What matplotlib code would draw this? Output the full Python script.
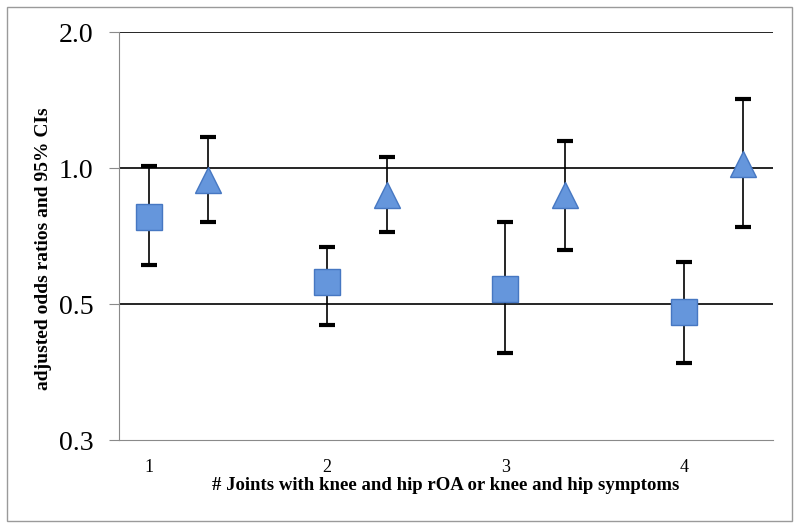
import numpy as np
import matplotlib.pyplot as plt
from matplotlib.patches import Rectangle
from matplotlib.ticker import FixedLocator, FixedFormatter, NullLocator

# datos
grupos = ['1', '2', '3', '4']
sq_or = [0.78, 0.56, 0.54, 0.48]
sq_lo = [0.61, 0.45, 0.39, 0.37]
sq_hi = [1.01, 0.67, 0.76, 0.62]
tri_or = [0.94, 0.87, 0.87, 1.02]
tri_lo = [0.76, 0.72, 0.66, 0.74]
tri_hi = [1.17, 1.06, 1.15, 1.42]
y_ticks = [0.25, 0.5, 1.0, 2.0]
y_labels = ['0.3', '0.5', '1.0', '2.0']

# 3 huecos por grupo: cuadrado, triangulo, vacio
x_sq = np.arange(len(grupos)) * 3
x_tri = x_sq + 1

fig = plt.figure(figsize=(8, 5.29), dpi=100)
ax = fig.add_axes([119/800, 1 - 440/529, (773 - 119)/800, (440 - 32)/529])

azul = '#6596dc'
borde = '#4677c2'

def dibujar(x, v, lo, hi, marker):
    v = np.array(v)
    err = [v - np.array(lo), np.array(hi) - v]
    ax.errorbar(x, v, yerr=err, fmt='none', ecolor='black', elinewidth=1.2,
                capsize=5.5, capthick=3, zorder=3)
    ax.plot(x, v, linestyle='none', marker=marker, markersize=18.5,
            markerfacecolor=azul, markeredgecolor=borde, markeredgewidth=1, zorder=4)

dibujar(x_sq, sq_or, sq_lo, sq_hi, 's')
dibujar(x_tri, tri_or, tri_lo, tri_hi, '^')

ax.set_yscale('log', base=2)
ax.set_ylim(0.25, 2.0)
ax.set_xlim(-0.5, 10.5)
ax.yaxis.set_major_locator(FixedLocator(y_ticks))
ax.yaxis.set_major_formatter(FixedFormatter(y_labels))
ax.yaxis.set_minor_locator(NullLocator())
ax.set_xticks(x_sq)
ax.set_xticklabels(grupos)

for v in y_ticks[1:]:
    ax.axhline(v, color='black', linewidth=1.2, zorder=1)

for s in ['top', 'right']:
    ax.spines[s].set_visible(False)
ax.spines['left'].set_color('#8a8a8a')
ax.spines['bottom'].set_color('#8a8a8a')
ax.tick_params(axis='y', length=7.2, color='#8a8a8a', labelsize=20, pad=11)
ax.tick_params(axis='x', length=0, labelsize=13, pad=14)
for t in ax.get_yticklabels() + ax.get_xticklabels():
    t.set_fontfamily('Liberation Serif')

ax.set_xlabel('# Joints with knee and hip rOA or knee and hip symptoms',
              fontsize=13.5, fontweight='bold', fontfamily='Liberation Serif')
ax.set_ylabel('adjusted odds ratios and 95% CIs',
              fontsize=14, fontweight='bold', fontfamily='Liberation Serif')
ax.xaxis.set_label_coords(0.5, -0.09)
ax.yaxis.set_label_coords(-0.103, 0.47)

fig.patches.append(Rectangle((7/800, 1 - 521/529), 785/800, 514/529, transform=fig.transFigure,
                             fill=False, edgecolor='#9a9a9a', linewidth=1))

fig.savefig('out.png', dpi=100)
